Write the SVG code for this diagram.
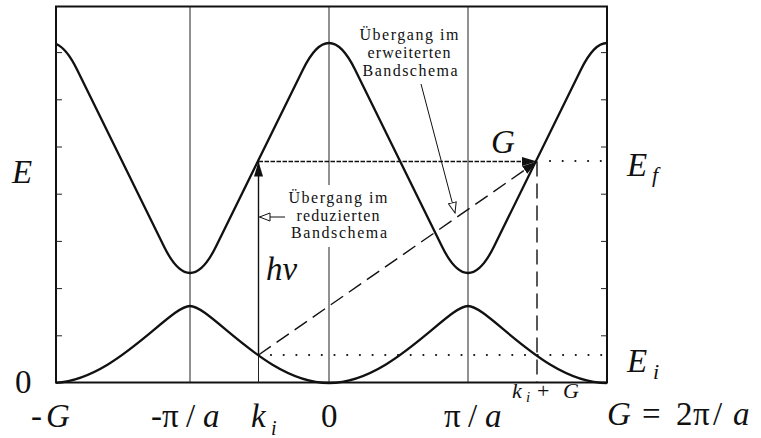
<svg xmlns="http://www.w3.org/2000/svg" width="761" height="438" viewBox="0 0 761 438">
<style>
text{font-family:"Liberation Serif","DejaVu Serif",serif;fill:#111}
.m{font-style:italic}
.big{font-size:33px}
.lbl{font-size:16px;text-anchor:middle}
.band{fill:none;stroke:#111;stroke-width:2.3}
.thin{fill:none;stroke:#222;stroke-width:1}
.frame{fill:none;stroke:#111;stroke-width:2}
.dot{fill:none;stroke:#111;stroke-width:2.2;stroke-linecap:round;stroke-dasharray:0 12.7}
</style>
<defs>
<clipPath id="c"><rect x="56" y="0" width="551" height="438"/></clipPath>
<marker id="af" markerUnits="userSpaceOnUse" markerWidth="16" markerHeight="10" refX="15" refY="4.5" orient="auto"><path d="M0,0 L15,4.5 L0,9 z" fill="#111"/></marker>
<marker id="ao" markerUnits="userSpaceOnUse" markerWidth="13" markerHeight="11" refX="11" refY="4.5" orient="auto"><path d="M0.5,0.5 L11,4.5 L0.5,8.5 z" fill="#fff" stroke="#111" stroke-width="1"/></marker>
</defs>
<g id="frame">
<rect class="frame" x="56" y="6.5" width="551" height="376"/>
<path class="thin" stroke-width="1.3" d="M56,335.8h6M56,288.6h6M56,241.4h6M56,194.2h6M56,147h6M56,99.8h6M56,52.6h6M607,335.8h-6M607,288.6h-6M607,241.4h-6M607,194.2h-6M607,147h-6M607,99.8h-6M607,52.6h-6"/>
</g>
<g id="gridlines">
<path class="thin" d="M190,6.5V382.5M329,6.5V185M329,247V382.5M468,6.5V382.5M258.5,355V382.5"/>
</g>
<g id="bands" clip-path="url(#c)">
<path id="upper-band" class="band" d="M51,43 Q64,43 77,69.5 L164,246.5 Q177,273 190,273 Q203,273 216,246.5 L303,69.5 Q316,43 329,43 Q342,43 355,69.5 L442,246.5 Q455,273 468,273 Q481,273 494,246.5 L581,69.5 Q594,43 607,43"/>
<path id="lower-band" class="band" d="M51,383 C113.55,383 169.15,306 190,306 C210.85,306 266.45,383 329,383 C391.55,383 447.15,306 468,306 C488.85,306 544.45,383 607,383"/>
</g>
<g id="connectors">
<line id="hnu-arrow" x1="258.5" y1="355" x2="258.5" y2="161.5" stroke="#111" stroke-width="1.4" marker-end="url(#af)"/>
<line id="G-arrow" x1="258.5" y1="161.5" x2="537" y2="161.5" stroke="#111" stroke-width="1.6" stroke-dasharray="4.5 1.5" marker-end="url(#af)"/>
<line id="diag-arrow" x1="258.5" y1="355" x2="537" y2="161.5" stroke="#111" stroke-width="1.4" stroke-dasharray="15 7" marker-end="url(#af)"/>
<line id="kG-dashed" x1="537" y1="161.5" x2="537" y2="382.5" stroke="#111" stroke-width="1.4" stroke-dasharray="15 7"/>
<line class="dot" x1="550" y1="161" x2="607" y2="161"/>
<line class="dot" x1="271" y1="355" x2="607" y2="355"/>
<line id="lbl1-arrow" x1="285" y1="217" x2="259.5" y2="217" stroke="#111" stroke-width="1" marker-end="url(#ao)"/>
<line id="lbl2-arrow" x1="421" y1="84" x2="455" y2="213" stroke="#111" stroke-width="1" marker-end="url(#ao)"/>
</g>
<g id="label-reduziert">
<text class="lbl" x="338" y="203" textLength="99" lengthAdjust="spacing">Übergang im</text>
<text class="lbl" x="338" y="221" textLength="83" lengthAdjust="spacing">reduzierten</text>
<text class="lbl" x="339" y="238" textLength="96" lengthAdjust="spacing">Bandschema</text>
</g>
<g id="label-erweitert">
<text class="lbl" x="409" y="40" textLength="99" lengthAdjust="spacing">Übergang im</text>
<text class="lbl" x="409" y="58" textLength="83" lengthAdjust="spacing">erweiterten</text>
<text class="lbl" x="410" y="76" textLength="95" lengthAdjust="spacing">Bandschema</text>
</g>
<g id="axis-labels">
<text class="big m" x="12" y="183">E</text>
<text class="big" x="15" y="393">0</text>
<text class="big m" x="491" y="153">G</text>
<text class="big m" x="266" y="280">hν</text>
<text class="big" x="627" y="176"><tspan class="m">E</tspan><tspan class="m" font-size="22" x="652" y="182">f</tspan></text>
<text class="big" x="627" y="372"><tspan class="m">E</tspan><tspan class="m" font-size="22" x="653" y="379">i</tspan></text>
<text class="big" y="427"><tspan x="31">-</tspan><tspan class="m" x="46">G</tspan></text>
<text class="big" y="427"><tspan x="151">-</tspan><tspan x="162">π</tspan><tspan x="186">/</tspan><tspan class="m" x="203">a</tspan></text>
<text class="big" y="427"><tspan class="m" x="251">k</tspan><tspan class="m" font-size="20" x="271" y="435">i</tspan></text>
<text class="big" x="321" y="427">0</text>
<text class="big" y="427"><tspan x="444">π</tspan><tspan x="468">/</tspan><tspan class="m" x="485">a</tspan></text>
<text font-size="22" y="398"><tspan class="m" x="512">k</tspan><tspan class="m" font-size="15" x="526" y="402">i</tspan><tspan x="537" y="398">+</tspan><tspan class="m" x="563">G</tspan></text>
<text class="big" y="425"><tspan class="m" x="607">G</tspan><tspan x="642">=</tspan><tspan x="676">2</tspan><tspan x="693">π</tspan><tspan x="713">/</tspan><tspan class="m" x="733">a</tspan></text>
</g>
</svg>
